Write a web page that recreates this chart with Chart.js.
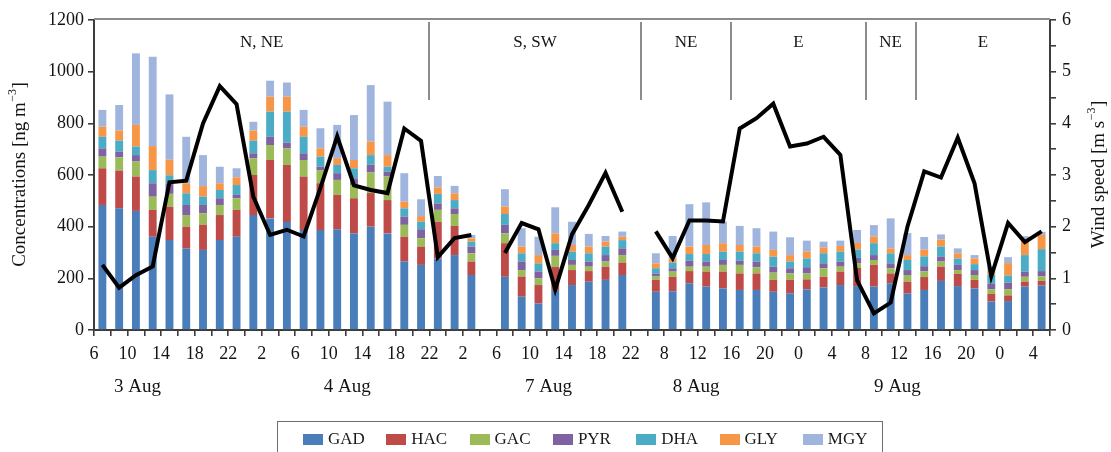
<!DOCTYPE html>
<html>
<head>
<meta charset="utf-8">
<script src="https://cdn.jsdelivr.net/npm/chart.js@4/dist/chart.umd.min.js"></script>
<style>
  html, body { margin: 0; padding: 0; background: #fff; }
  #wrap { position: relative; width: 1111px; height: 452px; overflow: hidden; }
  #legend {
    position: absolute; left: 277px; top: 421px; width: 606px; height: 44px;
    border: 1.5px solid #6e6e6e; box-sizing: border-box;
    font-family: 'Liberation Serif', 'Times New Roman', serif; font-size: 17px; color: #1a1a1a;
  }
  .item { position: absolute; top: 8px; height: 18px; display: flex; align-items: center; white-space: nowrap; }
  .sw { display: inline-block; width: 20px; height: 11px; margin-right: 5px; }
</style>
</head>
<body>
<div id="wrap">
  <canvas id="chart" width="1111" height="452"></canvas>
  <div id="legend"></div>
</div>
<script>
// Hour labels on every second tick (sampling slots are 2 h wide)
const hourLabels = ['6','10','14','18','22','2','6','10','14','18','22','2',
                    '6','10','14','18','22',
                    '8','12','16','20','0','4','8','12','16','20','0','4'];
const dateLabels = ['3 Aug', '4 Aug', '7 Aug', '8 Aug', '9 Aug'];
const datePositions = [2.6, 15.1, 27.1, 35.9, 47.9];

// Prevailing wind sectors (edges in sampling-slot units)
const sectorNames = ['N, NE', 'S, SW', 'NE', 'E', 'NE', 'E'];
const sectorEdges = [0, 20, 32.6, 38, 46, 49, 57];

// Carbonyl concentrations, ng m-3 (null = no sample)
const gad = [484,471,461,361,348,315,310,348,361,445,432,418,387,387,390,374,400,374,266,252,277,290,213,null,
             206,129,103,155,174,187,194,213,null,
             148,150,181,168,161,155,155,148,142,157,165,174,170,168,181,142,155,190,170,161,110,112,168,172];
const hac = [142,146,133,104,129,85,97,97,104,155,226,221,207,181,133,136,130,129,95,71,142,113,52,null,
             130,78,71,90,58,41,51,48,null,
             46,56,47,58,65,64,64,46,52,39,41,52,70,84,38,45,50,55,47,33,30,22,19,18];
const gac = [45,51,58,51,50,45,45,39,45,65,58,64,64,51,58,51,80,91,46,32,46,46,32,null,
             38,25,26,42,20,17,20,29,null,
             13,20,17,19,26,33,24,28,25,23,33,19,19,19,20,26,22,20,15,19,18,24,19,18];
const pyr = [32,22,25,52,40,39,32,26,13,19,32,22,26,13,26,26,30,19,32,35,25,22,26,null,
             33,33,26,23,19,20,25,26,null,
             12,13,23,20,19,16,22,23,20,24,19,20,20,19,19,19,20,20,20,19,22,25,20,20];
const dha = [45,43,33,51,32,45,32,32,38,49,97,120,64,39,32,39,37,19,32,29,37,32,19,null,
             42,32,32,26,32,32,33,32,null,
             20,22,26,29,32,35,32,39,26,34,39,38,32,46,39,39,38,38,25,23,35,28,64,85];
const gly = [39,39,84,93,60,39,41,26,30,39,58,58,39,32,26,32,53,45,26,22,25,26,13,null,
             29,26,32,38,26,26,19,13,null,
             19,16,29,35,33,26,26,26,25,26,23,22,26,25,19,19,26,27,20,22,15,48,58,55];
const mgy = [65,99,277,346,253,180,120,64,35,34,62,55,65,78,129,174,218,207,110,65,44,29,13,null,
             67,71,71,101,90,49,22,20,null,
             39,87,164,165,84,74,71,71,69,43,22,21,50,45,116,85,49,20,19,13,15,23,15,12];

// Wind speed on the right axis
const wind = [1.26,0.82,1.06,1.23,2.86,2.89,4.0,4.72,4.37,2.58,1.84,1.94,1.81,2.75,3.75,2.8,2.71,2.65,3.9,3.66,1.41,1.78,1.84,null,
              1.49,2.07,1.95,0.78,1.85,2.42,3.04,2.29,null,
              1.91,1.39,2.12,2.12,2.1,3.9,4.1,4.38,3.55,3.61,3.74,3.39,0.96,0.32,0.53,2.0,3.07,2.95,3.72,2.84,1.04,2.07,1.7,1.91];

const seriesNames  = ['GAD', 'HAC', 'GAC', 'PYR', 'DHA', 'GLY', 'MGY'];
const seriesValues = [gad, hac, gac, pyr, dha, gly, mgy];
const seriesColors = ['#4a7ebb', '#be4b48', '#9bbb59', '#7f62a1', '#4bacc6', '#f79646', '#9fb5de'];

const FONT = "'Liberation Serif', 'Times New Roman', serif";
Chart.defaults.font.family = FONT;
Chart.defaults.color = '#141414';

// slot i is centred at i + 0.5 on the linear x axis
const barPoints  = arr => arr.map((v, i) => ({ x: i + 0.5, y: v })).filter(p => p.y !== null);
const linePoints = arr => arr.map((v, i) => ({ x: i + 0.5, y: v }));

const barSets = seriesNames.map((name, k) => ({
  type: 'bar',
  label: name,
  data: barPoints(seriesValues[k]),
  backgroundColor: seriesColors[k],
  borderWidth: 0,
  barPercentage: 0.47,
  categoryPercentage: 1,
  yAxisID: 'y',
  order: 1
}));

const windSet = {
  type: 'line',
  label: 'Wind speed',
  data: linePoints(wind),
  yAxisID: 'y2',
  borderColor: '#000',
  borderWidth: 4,
  borderJoinStyle: 'miter',
  pointRadius: 0,
  fill: false,
  tension: 0,
  spanGaps: false,
  order: 0
};

function drawRotatedTitle(ctx, cx, cy, main, sup, tail, size) {
  ctx.save();
  ctx.translate(cx, cy);
  ctx.rotate(-Math.PI / 2);
  const big = size + 'px ' + FONT;
  const small = Math.round(size * 0.62) + 'px ' + FONT;
  ctx.font = big;
  const w1 = ctx.measureText(main).width;
  const w3 = ctx.measureText(tail).width;
  ctx.font = small;
  const w2 = ctx.measureText(sup).width;
  const x0 = -(w1 + w2 + w3) / 2;
  ctx.fillStyle = '#141414';
  ctx.textAlign = 'left';
  ctx.textBaseline = 'middle';
  ctx.font = big;   ctx.fillText(main, x0, 0);
  ctx.font = small; ctx.fillText(sup, x0 + w1 + 0.5, -size * 0.36);
  ctx.font = big;   ctx.fillText(tail, x0 + w1 + w2 + 1, 0);
  ctx.restore();
}

const decorations = {
  id: 'decorations',
  afterDraw(chart) {
    const { ctx, chartArea: a, scales: { x, y } } = chart;
    ctx.save();
    // top frame
    ctx.strokeStyle = '#8c8c8c';
    ctx.lineWidth = 2;
    ctx.beginPath();
    ctx.moveTo(a.left, a.top - 1);
    ctx.lineTo(a.right, a.top - 1);
    ctx.stroke();
    // sector separators
    const yEnd = y.getPixelForValue(890);
    ctx.beginPath();
    for (let k = 1; k < sectorEdges.length - 1; k++) {
      const px = Math.round(x.getPixelForValue(sectorEdges[k]));
      ctx.moveTo(px, a.top + 2);
      ctx.lineTo(px, yEnd);
    }
    ctx.stroke();
    // sector names
    ctx.fillStyle = '#141414';
    ctx.textAlign = 'center';
    ctx.textBaseline = 'alphabetic';
    ctx.font = '17px ' + FONT;
    sectorNames.forEach((n, k) => {
      ctx.fillText(n, x.getPixelForValue((sectorEdges[k] + sectorEdges[k + 1]) / 2), 47);
    });
    // day labels
    ctx.font = '19px ' + FONT;
    dateLabels.forEach((d, k) => ctx.fillText(d, x.getPixelForValue(datePositions[k]), 392));
    // axis titles
    const cy = (a.top + a.bottom) / 2;
    drawRotatedTitle(ctx, 20, cy, 'Concentrations [ng m', '\u22123', ']', 19);
    drawRotatedTitle(ctx, 1099, cy, 'Wind speed [m s', '\u22123', ']', 19);
    ctx.restore();
  }
};

const axisColor = '#3c3c3c';

const chart = new Chart(document.getElementById('chart'), {
  type: 'bar',
  data: { datasets: [windSet, ...barSets] },
  options: {
    responsive: false,
    animation: false,
    layout: { padding: { top: 20, left: 0, right: 0, bottom: 0 } },
    plugins: { legend: { display: false }, tooltip: { enabled: false } },
    scales: {
      x: {
        type: 'linear', min: 0, max: 57, stacked: true, offset: false,
        grid: { offset: false, drawOnChartArea: false, drawTicks: true, tickLength: 6, color: axisColor, lineWidth: 1.6 },
        border: { display: true, color: axisColor, width: 2 },
        ticks: {
          stepSize: 1, autoSkip: false, maxTicksLimit: 100, maxRotation: 0, minRotation: 0,
          padding: 7, font: { size: 18 }, color: '#141414',
          callback: v => (Math.round(v) % 2 === 0 ? hourLabels[Math.round(v) / 2] : '')
        },
        afterFit: s => { s.height = 122; }
      },
      y: {
        position: 'left', min: 0, max: 1200, stacked: true,
        grid: { drawOnChartArea: false, tickLength: 6, color: axisColor, lineWidth: 1.6 },
        border: { display: true, color: axisColor, width: 2 },
        ticks: { stepSize: 200, padding: 4, font: { size: 18 }, color: '#141414', callback: v => String(v) },
        afterFit: s => { s.width = 94; }
      },
      y2: {
        position: 'right', min: 0, max: 6,
        grid: { drawOnChartArea: false, tickLength: 6, color: axisColor, lineWidth: 1.6 },
        border: { display: true, color: axisColor, width: 2 },
        ticks: {
          stepSize: 0.5, autoSkip: false, padding: 6, font: { size: 18 }, color: '#141414',
          callback: v => (Number.isInteger(v) ? String(v) : '')
        },
        afterFit: s => { s.width = 61; }
      }
    }
  },
  plugins: [decorations]
});

// legend built from the bar datasets
const legendEl = document.getElementById('legend');
chart.data.datasets.filter(d => d.type === 'bar').forEach((d, k) => {
  const item = document.createElement('div');
  item.className = 'item';
  item.style.left = (25 + k * 83.3) + 'px';
  const sw = document.createElement('span');
  sw.className = 'sw';
  sw.style.background = d.backgroundColor;
  const tx = document.createElement('span');
  tx.textContent = d.label;
  item.appendChild(sw);
  item.appendChild(tx);
  legendEl.appendChild(item);
});
</script>
</body>
</html>
